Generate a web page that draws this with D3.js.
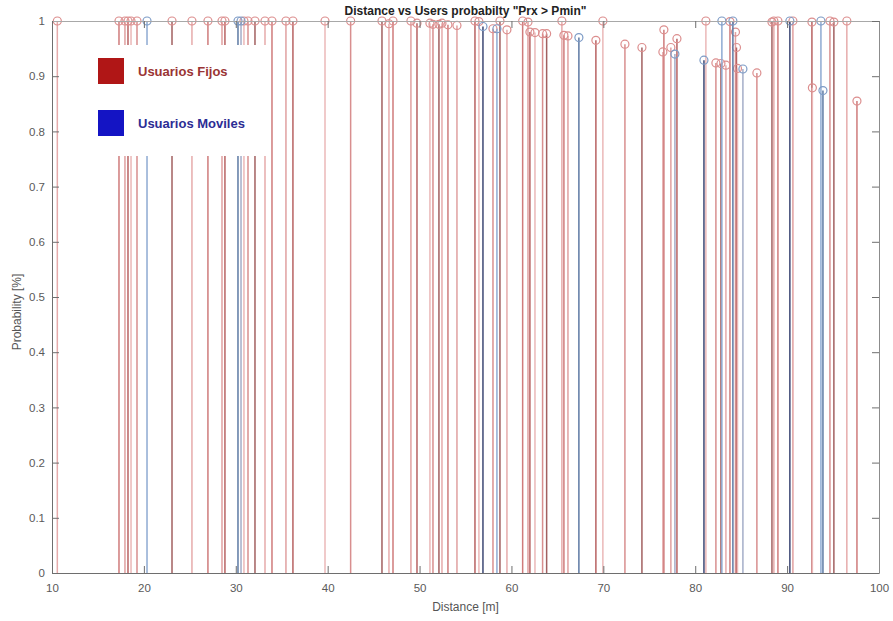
<!DOCTYPE html>
<html>
<head>
<meta charset="utf-8">
<script src="https://cdn.jsdelivr.net/npm/d3@7"></script>
<style>
  body { margin: 0; background: #fff; }
  text { font-family: "Liberation Sans", Arial, sans-serif; }
</style>
</head>
<body>
<svg width="893" height="621"></svg>
<script>
// distances [m] and probabilities
var fijosDist = [10.58, 17.29, 17.94, 18.27, 18.6, 19.25, 23.06, 25.23, 26.97, 28.5, 28.82,
	30.89, 31.33, 32.09, 33.18, 33.94, 35.46, 36.22, 39.71, 42.5, 45.91, 46.67, 47.11,
	49.06, 49.72, 51.13, 51.46, 52.11, 52.44, 53.09, 54.07, 56.03, 56.46, 57.99, 58.75,
	59.51, 61.22, 61.8, 62.01, 62.56, 63.39, 63.83, 65.49, 65.71, 66.15, 69.19, 69.95,
	72.35, 74.2, 76.48, 76.59, 77.35, 78.01, 81.16, 82.25, 82.8, 83.34, 83.78, 84.38,
	84.49, 84.6, 86.71, 88.35, 88.56, 89.0, 90.63, 92.7, 92.75, 94.66, 95.09, 96.5, 97.6];
var fijosProb = [1, 1, 1, 1, 1, 1, 1, 1, 1, 1, 1,
	1, 1, 1, 1, 1, 1, 1, 1, 1, 1, 0.995, 1,
	1, 0.996, 0.996, 0.994, 0.994, 0.996, 0.993, 0.992, 1, 0.999, 0.986, 1,
	0.984, 1, 0.998, 0.98, 0.979, 0.977, 0.977, 1, 0.974, 0.973, 0.965, 1,
	0.958, 0.952, 0.944, 0.984, 0.952, 0.968, 1, 0.924, 0.923, 0.92, 0.999, 0.98,
	0.952, 0.914, 0.906, 0.998, 1, 1, 1, 0.998, 0.879, 1, 0.998, 1, 0.855];

var movilesDist = [20.34, 30.24, 30.57, 56.9, 58.42, 67.34, 77.79, 80.95, 82.9, 84.1, 85.19,
	90.3, 93.68, 93.9];
var movilesProb = [1, 1, 1, 0.99, 0.986, 0.97, 0.94, 0.929, 1, 1, 0.913,
	1, 1, 0.874];

var xTicks = [10, 20, 30, 40, 50, 60, 70, 80, 90, 100];
var yTicks = [0, 0.1, 0.2, 0.3, 0.4, 0.5, 0.6, 0.7, 0.8, 0.9, 1];

var fijos = fijosDist.map(function(d, i) { return { x: d, p: fijosProb[i] }; });
var moviles = movilesDist.map(function(d, i) { return { x: d, p: movilesProb[i] }; });

var svg = d3.select("svg");
var x = d3.scaleLinear().domain([10, 100]).range([52, 879]);
var y = d3.scaleLinear().domain([0, 1]).range([573, 21]);

var redShade = d3.scaleOrdinal().range(["#e6abab", "#cf7b7b", "#e0a0a0", "#b86262", "#ebb8b8", "#d88f8f", "#a26060"]);
var blueShade = d3.scaleOrdinal().range(["#8eaad2", "#5d79a3", "#a4adc8", "#3c4774"]);

function drawStems(data, shade, ring, cls) {
	var g = svg.append("g").attr("class", cls);
	g.selectAll("line")
		.data(data)
		.enter()
		.append("line")
			.attr("x1", function(d) { return x(d.x); })
			.attr("x2", function(d) { return x(d.x); })
			.attr("y1", y(0))
			.attr("y2", function(d) { return y(d.p); })
			.attr("stroke", function(d, i) { return shade(i); })
			.attr("stroke-width", 1.5);
	g.selectAll("circle")
		.data(data)
		.enter()
		.append("circle")
			.attr("cx", function(d) { return x(d.x); })
			.attr("cy", function(d) { return y(d.p); })
			.attr("r", 4)
			.attr("fill", "none")
			.attr("stroke", ring)
			.attr("stroke-width", 1.2);
}
drawStems(fijos, redShade, "#dc8e8e", "fijos");
drawStems(moviles, blueShade, "#7d9bc6", "moviles");

// axes, MATLAB style box with inward ticks
var axisColor = "#6e6e6e";
var gx = svg.append("g")
	.attr("transform", "translate(0," + y(0) + ")")
	.call(d3.axisBottom(x).tickValues(xTicks).tickSizeInner(-7).tickSizeOuter(0).tickPadding(11));
var gy = svg.append("g")
	.attr("transform", "translate(" + x(10) + ",0)")
	.call(d3.axisLeft(y).tickValues(yTicks).tickSizeInner(-7).tickSizeOuter(0).tickPadding(7)
		.tickFormat(function(d) { return d3.format("~g")(d); }));
var gt = svg.append("g")
	.attr("transform", "translate(0," + y(1) + ")")
	.call(d3.axisTop(x).tickValues(xTicks).tickSizeInner(-7).tickSizeOuter(0).tickFormat(""));
var gr = svg.append("g")
	.attr("transform", "translate(" + x(100) + ",0)")
	.call(d3.axisRight(y).tickValues(yTicks).tickSizeInner(-7).tickSizeOuter(0).tickFormat(""));

[gx, gy, gt, gr].forEach(function(g) {
	g.selectAll("path").attr("stroke", axisColor);
	g.selectAll("line").attr("stroke", axisColor);
	g.selectAll("text").attr("fill", "#5a5a5a").style("font-size", "11.5px")
		.style("font-family", "'Liberation Sans', Arial, sans-serif");
});
gt.select("path").attr("stroke", "#a8a8a8");
gr.select("path").attr("stroke", "#8c8c8c");

// title and labels
svg.append("text")
	.attr("x", (x(10) + x(100)) / 2)
	.attr("y", 15)
	.attr("text-anchor", "middle")
	.style("font-size", "12px")
	.style("font-weight", "bold")
	.attr("fill", "#222")
	.text("Distance vs Users probabilty \"Prx > Pmin\"");

svg.append("text")
	.attr("x", (x(10) + x(100)) / 2)
	.attr("y", 611)
	.attr("text-anchor", "middle")
	.style("font-size", "12px")
	.attr("fill", "#555")
	.text("Distance [m]");

svg.append("text")
	.attr("transform", "translate(21,312) rotate(-90)")
	.attr("text-anchor", "middle")
	.style("font-size", "12px")
	.attr("fill", "#555")
	.text("Probability [%]");

// legend
var legend = svg.append("g").attr("transform", "translate(86,45)");
legend.append("rect")
	.attr("width", 184)
	.attr("height", 111)
	.attr("fill", "#fff");
var legendItems = [
	{ name: "Usuarios Fijos", box: "#b01616", txt: "#9a3434" },
	{ name: "Usuarios Moviles", box: "#1414c4", txt: "#2c2c94" }
];
legendItems.forEach(function(d, i) {
	legend.append("rect")
		.attr("x", 12)
		.attr("y", 13 + i * 52)
		.attr("width", 26)
		.attr("height", 26)
		.attr("fill", d.box);
	legend.append("text")
		.attr("x", 52)
		.attr("y", 31 + i * 52)
		.style("font-size", "13px")
		.style("font-weight", "bold")
		.attr("fill", d.txt)
		.text(d.name);
});
</script>
</body>
</html>
